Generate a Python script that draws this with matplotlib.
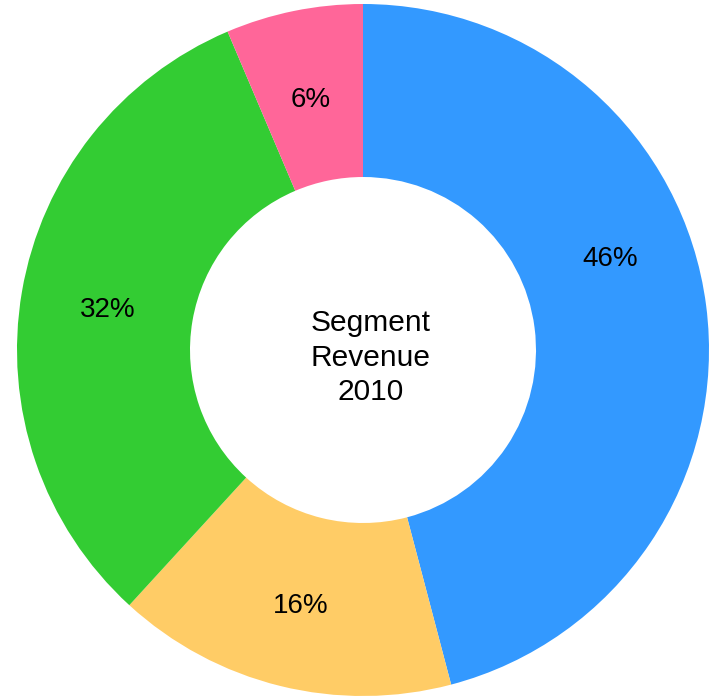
import numpy as np
import matplotlib.pyplot as plt

plt.rcParams['font.family'] = ['Liberation Sans', 'DejaVu Sans']

# Segment shares (clockwise from 12 o'clock), labels rounded to whole percent
segments = ["Segment A", "Segment B", "Segment C", "Segment D"]
shares = [45.9, 15.9, 31.8, 6.4]
colors = ["#3399FF", "#FFCC66", "#33CC33", "#FF6699"]
center_text = "Segment\nRevenue\n2010"

fig = plt.figure(figsize=(7.16, 6.98), dpi=100)
ax = fig.add_axes([0, 0, 1, 1])

wedges, texts, autotexts = ax.pie(
    shares, colors=colors, startangle=90, counterclock=False,
    radius=1.0, pctdistance=0.75, autopct="%1.0f%%",
    wedgeprops=dict(width=0.5, linewidth=0),
    textprops=dict(fontsize=20, color="black"))

# The big slice label sits a bit higher in the reference
ang = np.deg2rad(21)
autotexts[0].set_position((0.765 * np.cos(ang), 0.765 * np.sin(ang)))

# small downward nudge so labels sit like the reference
for t in autotexts:
    x, y = t.get_position()
    t.set_position((x, y - 0.012))

ax.text(0.023, -0.022, center_text, ha="center", va="center", fontsize=21.5,
        linespacing=1.31)

# Map data units onto the pixel layout of the picture
ax.set_aspect("auto")
ax.set_xlim(-363 / 346, (716 - 363) / 346)
ax.set_ylim(-(698 - 350) / 346, 350 / 346)
ax.axis("off")

fig.savefig("out.png", dpi=100)
